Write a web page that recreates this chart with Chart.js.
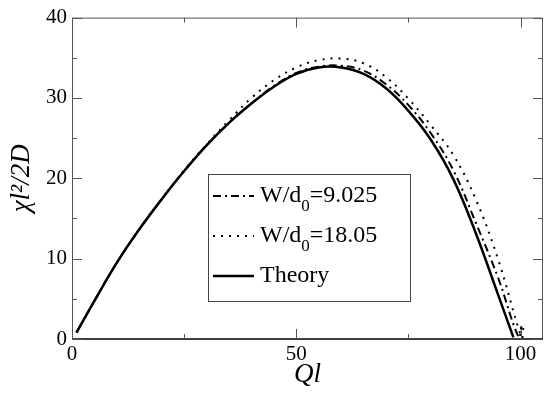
<!DOCTYPE html>
<html>
<head>
<meta charset="utf-8">
<script src="https://cdn.jsdelivr.net/npm/chart.js@4/dist/chart.umd.min.js"></script>
<style>
  html, body { margin: 0; padding: 0; background: #fff; }
  #wrap { width: 545px; height: 393px; }
</style>
</head>
<body>
<div id="wrap"><canvas id="myChart" width="545" height="393"></canvas></div>
<script>
// data
var theoryX = [1, 5, 10, 15, 20, 25, 30, 35, 40, 45, 50, 55, 60, 65, 70, 75, 80, 85, 90, 95, 98.4];
var theoryY = [0.8, 4.75, 9.5, 13.65, 17.4, 20.9, 24.1, 26.9, 29.3, 31.4, 33.0, 33.8, 33.8, 33.0, 31.2, 28.4, 24.8, 19.9, 13.2, 5.5, 0.2];

var w9X = [1, 5, 10, 15, 20, 25, 30, 35, 40, 45, 50, 55, 60, 65, 70, 75, 80, 85, 90, 95, 99.6, 100.2];
var w9Y = [0.8, 4.75, 9.5, 13.65, 17.4, 20.9, 24.1, 26.9, 29.3, 31.5, 33.1, 33.9, 34.0, 33.4, 31.7, 29.1, 25.6, 21.0, 14.5, 7.6, 0.2, 1.6];

var w18X = [1, 5, 10, 15, 20, 25, 30, 35, 40, 45, 50, 55, 60, 65, 70, 75, 80, 85, 90, 95, 100.3, 100.6];
var w18Y = [0.8, 4.75, 9.5, 13.65, 17.4, 21.0, 24.2, 27.2, 30.0, 32.2, 33.8, 34.7, 34.9, 34.3, 32.6, 29.9, 26.6, 22.9, 17.4, 9.9, 0.1, 1.4];

var seriesLabels = ['W/d\u2080=9.025', 'W/d\u2080=18.05', 'Theory'];
var xTicks = [0, 25, 50, 75, 100];
var xLabels = [0, 50, 100];
var yTicks = [0, 5, 10, 15, 20, 25, 30, 35, 40];
var yLabels = [0, 10, 20, 30, 40];

function pts(xs, ys) {
  return xs.map(function (x, i) { return { x: x, y: ys[i] }; });
}

var serif = "'Liberation Serif', 'DejaVu Serif', serif";

// frame + inward ticks on all four sides
var framePlugin = {
  id: 'frame',
  afterDatasetsDraw: function (chart) {
    var ctx = chart.ctx, a = chart.chartArea;
    var xs = chart.scales.x, ys = chart.scales.y;
    ctx.save();
    ctx.strokeStyle = '#555';
    ctx.lineWidth = 1;
    ctx.beginPath();
    ctx.moveTo(a.left + 0.5, a.bottom);
    ctx.lineTo(a.left + 0.5, a.top + 0.5);
    ctx.lineTo(a.right - 0.5, a.top + 0.5);
    ctx.lineTo(a.right - 0.5, a.bottom);
    ctx.stroke();
    ctx.strokeStyle = '#000';
    ctx.lineWidth = 1.5;
    ctx.beginPath();
    ctx.moveTo(a.left, a.bottom);
    ctx.lineTo(a.right, a.bottom);
    ctx.stroke();

    ctx.strokeStyle = '#555';
    ctx.lineWidth = 1;
    ctx.beginPath();
    xTicks.forEach(function (v) {
      var p = Math.round(xs.getPixelForValue(v)) + 0.5;
      var len = xLabels.indexOf(v) >= 0 ? 10 : 5;
      ctx.moveTo(p, a.bottom); ctx.lineTo(p, a.bottom - len);
      ctx.moveTo(p, a.top); ctx.lineTo(p, a.top + len);
    });
    yTicks.forEach(function (v) {
      var p = Math.round(ys.getPixelForValue(v)) + 0.5;
      var len = yLabels.indexOf(v) >= 0 ? 10 : 5;
      ctx.moveTo(a.left, p); ctx.lineTo(a.left + len, p);
      ctx.moveTo(a.right, p); ctx.lineTo(a.right - len, p);
    });
    ctx.stroke();
    ctx.restore();
  }
};

// boxed legend inside the plot
var legendPlugin = {
  id: 'boxLegend',
  afterDatasetsDraw: function (chart) {
    var ctx = chart.ctx;
    var bx = 208, by = 174, bw = 202, bh = 127;
    ctx.save();
    ctx.fillStyle = '#fff';
    ctx.fillRect(bx, by, bw, bh);
    ctx.strokeStyle = '#444';
    ctx.lineWidth = 1;
    ctx.strokeRect(bx + 0.5, by + 0.5, bw, bh);
    chart.data.datasets.forEach(function (ds, i) {
      var y = 196 + i * 40;
      ctx.strokeStyle = ds.borderColor;
      ctx.lineWidth = ds.borderWidth;
      ctx.setLineDash(ds.borderDash || []);
      ctx.beginPath();
      ctx.moveTo(213, y);
      ctx.lineTo(254, y);
      ctx.stroke();
      ctx.setLineDash([]);
      ctx.fillStyle = '#000';
      ctx.textBaseline = 'middle';
      var parts = ds.label.split('\u2080');
      var x = 260;
      ctx.font = '24px ' + serif;
      ctx.fillText(parts[0], x, y);
      x += ctx.measureText(parts[0]).width;
      if (parts.length > 1) {
        ctx.font = '17px ' + serif;
        ctx.fillText('0', x, y + 11);
        x += ctx.measureText('0').width;
        ctx.font = '24px ' + serif;
        ctx.fillText(parts[1], x, y);
      }
    });
    ctx.restore();
  }
};

var ctx = document.getElementById('myChart').getContext('2d');
var myChart = new Chart(ctx, {
  type: 'scatter',
  data: {
    datasets: [{
      label: seriesLabels[0],
      data: pts(w9X, w9Y),
      showLine: true,
      borderColor: '#000',
      borderWidth: 2,
      borderDash: [8, 4, 2, 4],
      pointRadius: 0,
      tension: 0.4
    }, {
      label: seriesLabels[1],
      data: pts(w18X, w18Y),
      showLine: true,
      borderColor: '#000',
      borderWidth: 2,
      borderDash: [2, 6],
      pointRadius: 0,
      tension: 0.4
    }, {
      label: seriesLabels[2],
      data: pts(theoryX, theoryY),
      showLine: true,
      borderColor: '#000',
      borderWidth: 2.5,
      pointRadius: 0,
      tension: 0.4
    }]
  },
  options: {
    responsive: false,
    animation: false,
    events: [],
    layout: { padding: { top: 10, right: 2, left: 0, bottom: 0 } },
    plugins: {
      legend: { display: false },
      tooltip: { enabled: false }
    },
    scales: {
      x: {
        type: 'linear',
        min: 0,
        max: 105,
        afterBuildTicks: function (s) { s.ticks = xTicks.map(function (v) { return { value: v }; }); },
        afterFit: function (s) { s.height = 54; },
        border: { display: false },
        grid: { display: false, drawTicks: false },
        ticks: {
          padding: 3,
          maxRotation: 0,
          autoSkip: false,
          color: '#000',
          font: { family: serif, size: 21 },
          callback: function (v) { return xLabels.indexOf(v) >= 0 ? String(v) : ''; }
        },
        title: {
          display: true,
          text: 'Ql',
          color: '#000',
          font: { family: serif, size: 27, style: 'italic' },
          padding: { top: 0, bottom: 2 }
        }
      },
      y: {
        type: 'linear',
        min: 0,
        max: 40,
        afterBuildTicks: function (s) { s.ticks = yTicks.map(function (v) { return { value: v }; }); },
        afterFit: function (s) { s.width = 72; },
        border: { display: false },
        grid: { display: false, drawTicks: false },
        ticks: {
          padding: 5,
          autoSkip: false,
          color: '#000',
          font: { family: serif, size: 21 },
          callback: function (v) { return yLabels.indexOf(v) >= 0 ? String(v) : ''; }
        },
        title: {
          display: true,
          text: '\u03c7l\u00b2/2D',
          color: '#000',
          font: { family: serif, size: 27, style: 'italic' },
          padding: { top: 6, bottom: 0 }
        }
      }
    }
  },
  plugins: [framePlugin, legendPlugin]
});
</script>
</body>
</html>
